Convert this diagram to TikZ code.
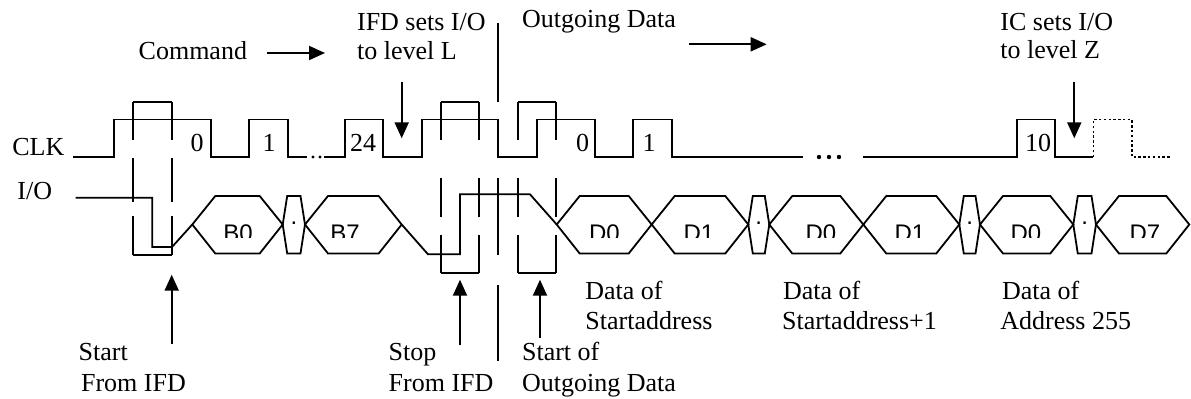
\documentclass[tikz,border=0pt]{standalone}
\usepackage{fontspec}
\setmainfont{Liberation Serif}
\setsansfont{Liberation Sans}
\usetikzlibrary{arrows.meta}
\begin{document}
\begin{tikzpicture}[x=0.5pt,y=-0.5pt,
    sig/.style={line width=0.9pt},
    pointer/.style={line width=1pt,-{Triangle[length=8pt,width=7pt]}},
    lbl/.style={font=\fontsize{13}{15}\selectfont,inner sep=0pt,anchor=base west},
    num/.style={font=\fontsize{13}{15}\selectfont,inner sep=0pt,anchor=base},
    hexlbl/.style={font=\sffamily\fontsize{12}{14}\selectfont,inner sep=0pt,anchor=base}]
            {
    \def\clkhigh{119.5}
    \def\clklow{157}
    \def\clktall{101.7}
    \def\hextop{196}
    \def\hexmid{224.5}
    \def\hexbot{253.5}
    \def\words{192.3/282.7/B0/238, 305/401.7/B7/345, 556.7/651.7/D0/604.5, 651.7/748.3/D1/699,
      769.3/863.3/D0/821, 863.3/959.3/D1/910, 980/1073.3/D0/1026, 1096/1189.3/D7/1145}

    \useasboundingbox (0,0) rectangle (1191,398);

    % CLK
    \draw[sig] (73.3,\clklow) -- (114,\clklow) -- (114,\clkhigh) -- (210.7,\clkhigh) -- (210.7,\clklow)
      -- (249,\clklow) -- (249,\clkhigh) -- (287.7,\clkhigh) -- (287.7,\clklow) -- (307,\clklow);
    \fill (313,\clklow) circle (1.7) (320,\clklow) circle (1.7);
    \draw[sig] (324,\clklow) -- (345,\clklow) -- (345,\clkhigh) -- (383.3,\clkhigh) -- (383.3,\clklow)
      -- (421.7,\clklow) -- (421.7,\clkhigh) -- (498.3,\clkhigh) -- (498.3,\clklow) -- (536.7,\clklow)
      -- (536.7,\clkhigh) -- (595,\clkhigh) -- (595,\clklow) -- (633.3,\clklow) -- (633.3,\clkhigh)
      -- (671.7,\clkhigh) -- (671.7,\clklow) -- (803.3,\clklow);
    \fill (819,\clklow) circle (2.2) (829,\clklow) circle (2.2) (839,\clklow) circle (2.2);
    \draw[sig] (862.7,\clklow) -- (1016.7,\clklow) -- (1016.7,\clkhigh) -- (1055,\clkhigh)
      -- (1055,\clklow) -- (1093.3,\clklow);
    \draw[line width=0.8pt,dash pattern=on 1.2pt off 1.2pt] (1093.3,\clklow) -- (1093.3,\clkhigh)
      -- (1131.7,\clkhigh) -- (1131.7,\clklow) -- (1170,\clklow);

    % I/O
    \draw[sig] (75.7,197.7) -- (152.3,197.7) -- (152.3,247) -- (172,247) -- (192.3,\hexmid);
    \draw[sig] (401.7,\hexmid) -- (428,254.3) -- (460,254.3) -- (460,194.3) -- (530,194.3) -- (556.7,\hexmid);
    \foreach \a/\b/\t/\c in \words
      \draw[sig] (\a,\hexmid) -- (\a+23,\hextop) -- (\b-23,\hextop) -- (\b,\hexmid)
        -- (\b-23,\hexbot) -- (\a+23,\hexbot) -- cycle;
    \begin{scope}
      \clip (0,0) rectangle (1191,237);
      \foreach \a/\b/\t/\c [count=\i] in \words
        \node[hexlbl] (word\i) at (\c,241) {\t};
    \end{scope}
    \foreach \a/\b [count=\i] in {282.7/305, 748.3/769.3, 959.3/980, 1073.3/1096} {
      \draw[sig] (\a,\hexmid) -- (\a+4.5,\hextop) -- (\b-4.5,\hextop) -- (\b,\hexmid)
        -- (\b-4.5,\hexbot) -- (\a+4.5,\hexbot) -- cycle;
      \node[hexlbl] (gap\i) at ({(\a+\b)/2},224.5) {.};
    }

    % start, stop and start of outgoing data
    \draw[sig] (133.3,\clktall) -- (171.7,\clktall) (133.3,255) -- (171.7,255);
    \foreach \x in {133.3,171.7}
      \foreach \s/\e in {101.7/140,158/201.7,216/255}
        \draw[sig] (\x,\s) -- (\x,\e);
    \foreach \l/\r in {440.7/479.3,517.7/556} {
      \draw[sig] (\l,\clktall) -- (\r,\clktall) (\l,273.3) -- (\r,273.3);
      \foreach \x in {\l,\r}
        \foreach \s/\e in {101.7/140,178/216.7,235/273.3}
          \draw[sig] (\x,\s) -- (\x,\e);
    }
    \foreach \s/\e in {23.3/101.7,178/255,284.7/361.3}
      \draw[sig] (498.3,\s) -- (498.3,\e);

    % bit numbers
    \node[num] (n0) at (197,151.5) {0};
    \node[num] (n1) at (269,151.5) {1};
    \node[num] (n24) at (363,151.5) {24};
    \node[num] (m0) at (582.5,151.5) {0};
    \node[num] (m1) at (649,151.5) {1};
    \node[num] (m10) at (1038,151.5) {10};

    % texts
    \node[lbl] (clk) at (12,155) {CLK};
    \node[lbl] (io) at (17,199) {I/O};
    \node[lbl] (cmd) at (138.3,59.3) {Command};
    \node[lbl] (ifd1) at (356.7,30.7) {IFD sets I/O};
    \node[lbl] (ifd2) at (356.7,59.3) {to level L};
    \node[lbl] (out) at (521.7,27.3) {Outgoing Data};
    \node[lbl] (ic1) at (1000,30.7) {IC sets I/O};
    \node[lbl] (ic2) at (1000,58.3) {to level Z};
    \node[lbl] (start1) at (78.3,360.7) {Start};
    \node[lbl] (start2) at (80.7,391.3) {From IFD};
    \node[lbl] (stop1) at (388.3,360.7) {Stop};
    \node[lbl] (stop2) at (388.3,391.3) {From IFD};
    \node[lbl] (sod1) at (521.7,360.7) {Start of};
    \node[lbl] (sod2) at (521.7,391.3) {Outgoing Data};
    \node[lbl] (dsa1) at (585,299.7) {Data of};
    \node[lbl] (dsa2) at (585,329.7) {Startaddress};
    \node[lbl] (dsb1) at (782.7,299.7) {Data of};
    \node[lbl] (dsb2) at (781.7,329.7) {Startaddress+1};
    \node[lbl] (dad1) at (1001.7,299.7) {Data of};
    \node[lbl] (dad2) at (1000,329.7) {Address 255};

    % arrows
    \coordinate (cmdtail) at (266.7,53);
    \coordinate (cmdtip) at (325,53);
    \coordinate (outtail) at (689.3,44.3);
    \coordinate (outtip) at (766.7,44.3);
    \coordinate (ltail) at (401.7,81.7);
    \coordinate (ltip) at (401.7,138.3);
    \coordinate (ztail) at (1074.3,81.7);
    \coordinate (ztip) at (1074.3,138.3);
    \coordinate (starttail) at (171.7,344);
    \coordinate (starttip) at (171.7,274.7);
    \coordinate (stoptail) at (460,344.7);
    \coordinate (stoptip) at (460,279.7);
    \coordinate (sodtail) at (540,338);
    \coordinate (sodtip) at (540,279.7);
    \draw[pointer] (cmdtail) -- (cmdtip);
    \draw[pointer] (outtail) -- (outtip);
    \draw[pointer] (ltail) -- (ltip);
    \draw[pointer] (ztail) -- (ztip);
    \draw[pointer] (starttail) -- (starttip);
    \draw[pointer] (stoptail) -- (stoptip);
    \draw[pointer] (sodtail) -- (sodtip);
}

        \end{tikzpicture}
\end{document}
